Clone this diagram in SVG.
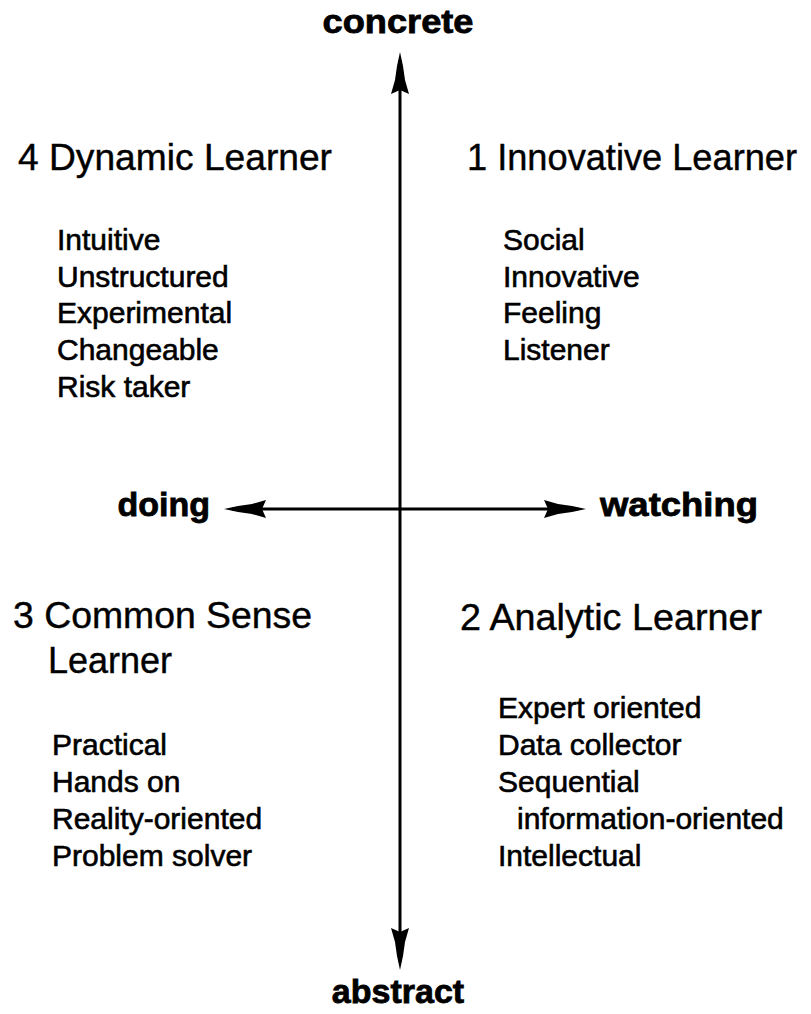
<svg xmlns="http://www.w3.org/2000/svg" width="811" height="1014" viewBox="0 0 811 1014">
<style>
.ax{font-family:"Liberation Sans",Arial,sans-serif;font-weight:bold;font-size:34px;fill:#000;stroke:#000;stroke-width:0.8}
.ti{font-family:"Liberation Sans",Arial,sans-serif;font-size:36px;fill:#000;stroke:#000;stroke-width:0.4}
.it{font-family:"Liberation Sans",Arial,sans-serif;font-size:30px;fill:#000;stroke:#000;stroke-width:0.6}
.ln{stroke:#000;stroke-width:3;fill:none}
.hd{fill:#000}
</style>
<rect width="811" height="1014" fill="#fff"/>
<g id="connectors">
<line class="ln" x1="400" y1="60" x2="400" y2="962"/>
<line class="ln" x1="232" y1="509" x2="578" y2="509"/>
<polygon class="hd" points="400,52 403,66 405,80 409,94 400,90 391,94 395,80 397,66"/>
<polygon class="hd" points="400,970 403,956 405,942 409,928 400,932 391,928 395,942 397,956"/>
<polygon class="hd" points="224,509 238,506 252,504 266,500 262,509 266,518 252,514 238,512"/>
<polygon class="hd" points="586,509 572,506 558,504 544,500 548,509 544,518 558,514 572,512"/>
</g>
<g id="axis-concrete"><text class="ax" x="398" y="33" text-anchor="middle" textLength="151" lengthAdjust="spacingAndGlyphs">concrete</text></g>
<g id="axis-abstract"><text class="ax" x="398" y="1003" text-anchor="middle">abstract</text></g>
<g id="axis-doing"><text class="ax" x="210" y="516" text-anchor="end">doing</text></g>
<g id="axis-watching"><text class="ax" x="600" y="516" textLength="158" lengthAdjust="spacingAndGlyphs">watching</text></g>
<g id="q4">
<text class="ti" x="18" y="170" textLength="314" lengthAdjust="spacingAndGlyphs">4 Dynamic Learner</text>
<text class="it" x="57" y="250">Intuitive</text>
<text class="it" x="57" y="287">Unstructured</text>
<text class="it" x="57" y="323">Experimental</text>
<text class="it" x="57" y="360">Changeable</text>
<text class="it" x="57" y="397">Risk taker</text>
</g>
<g id="q1">
<text class="ti" x="467" y="170" textLength="330" lengthAdjust="spacingAndGlyphs">1 Innovative Learner</text>
<text class="it" x="503" y="250">Social</text>
<text class="it" x="503" y="287">Innovative</text>
<text class="it" x="503" y="323">Feeling</text>
<text class="it" x="503" y="360">Listener</text>
</g>
<g id="q3">
<text class="ti" x="13" y="628" textLength="299" lengthAdjust="spacingAndGlyphs">3 Common Sense</text>
<text class="ti" x="48" y="673">Learner</text>
<text class="it" x="52" y="755">Practical</text>
<text class="it" x="52" y="792">Hands on</text>
<text class="it" x="52" y="829">Reality-oriented</text>
<text class="it" x="52" y="866">Problem solver</text>
</g>
<g id="q2">
<text class="ti" x="460" y="630" textLength="302" lengthAdjust="spacingAndGlyphs">2 Analytic Learner</text>
<text class="it" x="498" y="718">Expert oriented</text>
<text class="it" x="498" y="755">Data collector</text>
<text class="it" x="498" y="792">Sequential</text>
<text class="it" x="517" y="829">information-oriented</text>
<text class="it" x="498" y="866">Intellectual</text>
</g>
</svg>
